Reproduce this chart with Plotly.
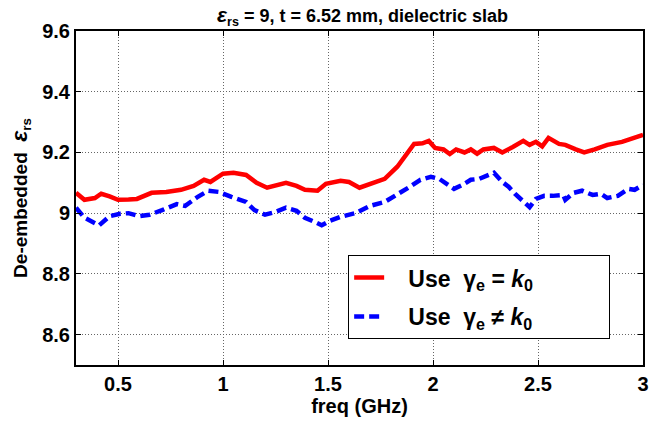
import plotly.graph_objects as go

red_f = [0.30,0.34,0.39,0.42,0.46,0.50,0.55,0.59,0.66,0.73,0.80,0.86,0.91,0.94,1.00,1.05,1.11,1.16,1.21,1.30,1.35,1.39,1.45,1.49,1.56,1.60,1.65,1.70,1.77,1.83,1.87,1.91,1.95,1.98,2.01,2.05,2.08,2.11,2.15,2.18,2.21,2.24,2.29,2.33,2.38,2.43,2.46,2.49,2.52,2.55,2.60,2.63,2.68,2.72,2.77,2.83,2.90,2.96,3.00]
red_v = [9.067,9.044,9.05,9.064,9.055,9.044,9.045,9.047,9.067,9.07,9.077,9.09,9.11,9.103,9.13,9.133,9.126,9.10,9.084,9.10,9.09,9.077,9.074,9.097,9.107,9.103,9.084,9.097,9.113,9.153,9.19,9.228,9.23,9.238,9.215,9.21,9.195,9.21,9.20,9.21,9.196,9.21,9.215,9.20,9.218,9.238,9.225,9.235,9.22,9.248,9.228,9.225,9.21,9.20,9.21,9.225,9.235,9.25,9.258]

blue_f = [0.30,0.34,0.41,0.46,0.51,0.55,0.60,0.65,0.71,0.78,0.82,0.88,0.93,0.98,1.04,1.11,1.15,1.20,1.25,1.30,1.35,1.39,1.44,1.47,1.51,1.56,1.63,1.70,1.77,1.83,1.89,1.94,1.99,2.03,2.06,2.10,2.14,2.18,2.22,2.25,2.29,2.33,2.36,2.39,2.43,2.46,2.49,2.53,2.57,2.62,2.63,2.67,2.71,2.76,2.80,2.83,2.88,2.93,2.96,3.00]
blue_v = [9.018,8.985,8.96,8.99,8.998,9.0,8.99,8.995,9.01,9.03,9.024,9.054,9.074,9.07,9.054,9.037,9.01,8.995,9.004,9.018,9.008,8.985,8.97,8.96,8.975,8.988,9.0,9.024,9.037,9.06,9.087,9.11,9.12,9.113,9.10,9.08,9.093,9.11,9.113,9.12,9.133,9.103,9.087,9.064,9.037,9.02,9.047,9.057,9.057,9.06,9.044,9.067,9.074,9.06,9.064,9.05,9.057,9.08,9.077,9.093]

x_ticks = [0.5, 1, 1.5, 2, 2.5, 3]
x_ticktext = ["0.5", "1", "1.5", "2", "2.5", "3"]
y_ticks = [8.6, 8.8, 9.0, 9.2, 9.4, 9.6]
y_ticktext = ["8.6", "8.8", "9", "9.2", "9.4", "9.6"]

FONT = "Liberation Sans, Arial, sans-serif"
LEAD = "&nbsp;" * 3
PAD = "&nbsp;" * 11

fig = go.Figure()
fig.add_trace(go.Scatter(
    x=red_f, y=red_v, mode="lines", legendgroup="a",
    name=LEAD + "<b>Use  γ<sub>e</sub> = <i>k</i><sub>0</sub></b>" + PAD,
    line=dict(color="#ff0000", width=4.5),
))
fig.add_trace(go.Scatter(
    x=blue_f, y=blue_v, mode="lines", legendgroup="b",
    name=LEAD + "<b>Use  γ<sub>e</sub> ≠ <i>k</i><sub>0</sub></b>" + PAD,
    line=dict(color="#0000ff", width=4.5, dash="10px,5px"),
))

axis_common = dict(
    showline=True, linecolor="black", linewidth=2, mirror="allticks",
    ticks="inside", ticklen=5, tickcolor="black", tickwidth=1,
    showgrid=True, gridcolor="#666666", griddash="1px,2px", gridwidth=1,
    zeroline=False,
    tickfont=dict(family=FONT, size=20, color="black", weight="bold"),
)

fig.update_layout(
    width=654, height=422,
    margin=dict(l=76, r=5, t=31, b=57),
    paper_bgcolor="white", plot_bgcolor="white",
    font=dict(family=FONT, color="black"),
    title=dict(
        text="<b><i><span style='font-size:21px'>ε</span></i><sub>rs</sub> = 9, t = 6.52 mm, dielectric slab</b>",
        x=(76 + 649) / 2 / 654, xanchor="center", y=0.962, yanchor="middle",
        font=dict(family=FONT, size=18, color="black"),
    ),
    xaxis=dict(
        range=[0.3, 3], tickvals=x_ticks, ticktext=x_ticktext,
        title=dict(text="<b>freq (GHz)</b>", font=dict(family=FONT, size=20, color="black"), standoff=3),
        **axis_common,
    ),
    yaxis=dict(
        range=[8.5, 9.6], tickvals=y_ticks, ticktext=y_ticktext,
        title=dict(text="<b>De-embedded  <i><span style='font-size:23px'>ε</span></i><sub>rs</sub></b>", font=dict(family=FONT, size=19, color="black"), standoff=10),
        **axis_common,
    ),
    legend=dict(
        x=0.48, y=0.329, xanchor="left", yanchor="top",
        bgcolor="white", bordercolor="black", borderwidth=1,
        font=dict(family=FONT, size=23, color="black"),
        tracegroupgap=6,
    ),
    showlegend=True,
)

fig.write_html("out.html")
